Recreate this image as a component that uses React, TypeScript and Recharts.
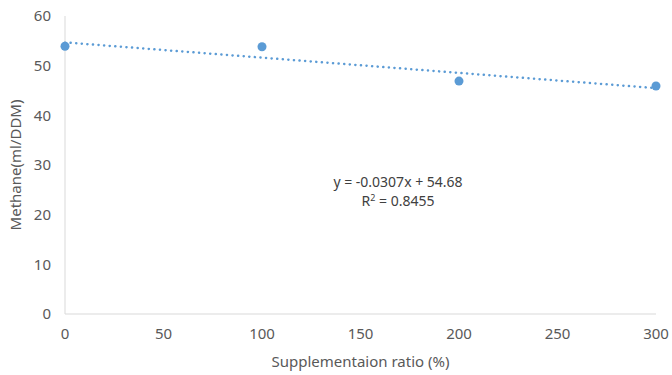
import { ComposedChart, Scatter, Line, XAxis, YAxis } from 'recharts'

const ratios = [0, 100, 200, 300]
const methane = [53.9, 53.8, 46.9, 45.9]
const xTicks = [0, 50, 100, 150, 200, 250, 300]
const yTicks = [0, 10, 20, 30, 40, 50, 60]
const slope = -0.0307
const intercept = 54.68
const rSquared = 0.8455

const points = ratios.map((x, i) => ({ x, y: methane[i] }))
const trend = [0, 300].map((x) => ({ x, t: intercept + slope * x }))

const blue = '#5B9BD5'
const textColor = '#595959'
const font = '"Noto Sans", "Open Sans", sans-serif'

export default function App() {
  return (
    <div style={{ position: 'absolute', left: 0, top: 0, width: 672, height: 375, background: '#fff', fontFamily: font }}>
      <ComposedChart width={672} height={375} margin={{ top: 16, right: 16, left: 0, bottom: 0 }}>
        <XAxis
          type="number"
          dataKey="x"
          domain={[0, 300]}
          ticks={xTicks}
          tickLine={false}
          tickSize={0}
          tickMargin={14}
          height={61}
          stroke="#d9d9d9"
          tick={{ fill: textColor, fontSize: 15, fontFamily: font }}
          label={{ value: 'Supplementaion ratio (%)', position: 'insideBottom', offset: 8, fill: textColor, fontSize: 15, fontFamily: font }}
        />
        <YAxis
          type="number"
          domain={[0, 60]}
          ticks={yTicks}
          tickLine={false}
          tickSize={0}
          tickMargin={14}
          width={65}
          stroke="#d9d9d9"
          tick={{ fill: textColor, fontSize: 15, fontFamily: font }}
          label={{ value: 'Methane(ml/DDM)', angle: -90, position: 'insideLeft', offset: 16, fill: textColor, fontSize: 15, fontFamily: font, style: { textAnchor: 'middle' } }}
        />
        <Line
          data={trend}
          dataKey="t"
          type="linear"
          stroke={blue}
          strokeWidth={2.5}
          strokeDasharray="0.1 5.5"
          strokeLinecap="round"
          dot={false}
          activeDot={false}
          isAnimationActive={false}
        />
        <Scatter data={points} dataKey="y" fill={blue} isAnimationActive={false} shape={(p: any) => <circle cx={p.cx} cy={p.cy} r={4.5} fill={blue} />} />
      </ComposedChart>
      <div style={{ position: 'absolute', left: 300, width: 196, top: 172, textAlign: 'center', color: '#404040', fontSize: 14, lineHeight: '19px' }}>
        <div>y = {slope}x + {intercept}</div>
        <div>
          R<span style={{ fontSize: 9, position: 'relative', top: -5 }}>2</span> = {rSquared}
        </div>
      </div>
    </div>
  )
}
